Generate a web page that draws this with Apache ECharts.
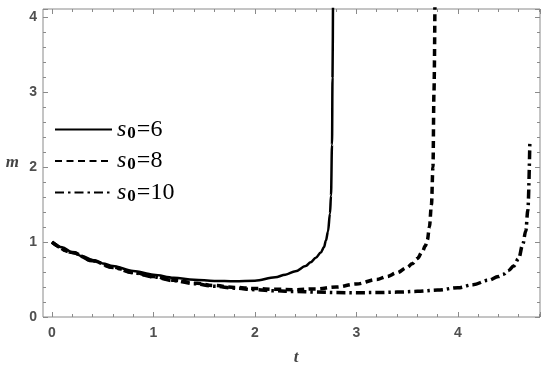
<!DOCTYPE html>
<html>
<head>
<meta charset="utf-8">
<script src="https://cdn.jsdelivr.net/npm/echarts@6/dist/echarts.min.js"></script>
<style>html,body{margin:0;padding:0;background:#fff}#c{width:550px;height:367px}</style>
</head>
<body>
<div id="c"></div>
<script>
// ---- data ----
const seriesNames = ['s0=6', 's0=8', 's0=10'];

const tS6 = [0, 0.1, 0.2, 0.3, 0.4, 0.5, 0.6, 0.8, 1.0, 1.2, 1.4, 1.6, 1.8, 2.0, 2.2, 2.3, 2.4, 2.5, 2.55, 2.6, 2.65, 2.68, 2.7, 2.72, 2.74, 2.75, 2.76, 2.765, 2.77];
const mS6 = [1.0, 0.93, 0.865, 0.81, 0.76, 0.715, 0.68, 0.615, 0.565, 0.525, 0.497, 0.482, 0.476, 0.485, 0.53, 0.565, 0.61, 0.68, 0.73, 0.79, 0.86, 0.93, 1.02, 1.14, 1.38, 1.62, 2.3, 3.2, 4.3];

const tS8 = [0, 0.2, 0.4, 0.6, 0.8, 1.0, 1.2, 1.4, 1.6, 1.8, 2.0, 2.2, 2.4, 2.6, 2.8, 3.0, 3.2, 3.3, 3.4, 3.5, 3.55, 3.6, 3.65, 3.68, 3.7, 3.72, 3.74, 3.755, 3.765, 3.775];
const mS8 = [1.0, 0.86, 0.75, 0.665, 0.595, 0.54, 0.49, 0.455, 0.42, 0.395, 0.38, 0.37, 0.365, 0.375, 0.4, 0.44, 0.5, 0.54, 0.59, 0.66, 0.71, 0.78, 0.87, 0.95, 1.03, 1.2, 1.5, 2.0, 3.0, 4.3];

const tS10 = [0, 0.2, 0.4, 0.6, 0.8, 1.0, 1.2, 1.4, 1.6, 1.8, 2.0, 2.2, 2.4, 2.6, 2.8, 3.0, 3.2, 3.4, 3.6, 3.8, 4.0, 4.15, 4.3, 4.4, 4.45, 4.5, 4.55, 4.6, 4.64, 4.67, 4.69, 4.71];
const mS10 = [1.0, 0.86, 0.75, 0.66, 0.59, 0.535, 0.485, 0.445, 0.41, 0.385, 0.365, 0.35, 0.34, 0.332, 0.326, 0.324, 0.326, 0.332, 0.342, 0.36, 0.39, 0.43, 0.49, 0.54, 0.57, 0.62, 0.68, 0.78, 0.97, 1.15, 1.42, 2.34];

const xMin = 0, xMax = 4.81, yMin = 0, yMax = 4.11;

// ---- build ----
function zip(t, m) { return t.map((v, i) => [v, m[i]]); }
const gray = '#8a8a8a';
const labelColor = '#4f4f4f';
const SERIF = 'Liberation Serif';
const SANS = 'Liberation Sans';
function intOnly(v) { return Math.abs(v - Math.round(v)) < 1e-9 ? String(Math.round(v)) : ''; }

function xAx(pos, interval, len, withLabel) {
  return {
    type: 'value', gridIndex: 0, position: pos, min: xMin, max: xMax, interval: interval,
    axisLine: { show: false, onZero: false },
    axisTick: { show: true, inside: true, length: len, lineStyle: { color: gray, width: 1 } },
    axisLabel: { show: withLabel, formatter: intOnly, color: labelColor, fontSize: 14, fontWeight: 'bold', fontFamily: SANS, margin: 9 },
    splitLine: { show: false }
  };
}
function yAx(pos, interval, len, withLabel, offset) {
  return {
    type: 'value', gridIndex: 0, position: pos, min: yMin, max: yMax, interval: interval, offset: offset,
    axisLine: { show: false, onZero: false },
    axisTick: { show: true, inside: true, length: len, lineStyle: { color: gray, width: 1 } },
    axisLabel: { show: withLabel, formatter: intOnly, color: labelColor, fontSize: 14, fontWeight: 'bold', fontFamily: SANS, margin: 6 },
    splitLine: { show: false }
  };
}

const xAxes = [xAx('bottom', 1, 5, true), xAx('bottom', 0.2, 3, false), xAx('top', 1, 5, false), xAx('top', 0.2, 3, false)];
xAxes[0].name = 't';
xAxes[0].nameLocation = 'middle';
xAxes[0].nameGap = 32;
xAxes[0].nameTextStyle = { fontFamily: SERIF, fontStyle: 'italic', fontWeight: 'bold', fontSize: 17, color: '#444' };
const yAxes = [yAx('left', 1, 5, true, 9), yAx('left', 0.2, 3, false, 9), yAx('right', 1, 5, false, 0), yAx('right', 0.2, 3, false, 0)];
yAxes[0].name = 'm';
yAxes[0].nameLocation = 'middle';
yAxes[0].nameRotate = 0;
yAxes[0].nameGap = 24;
yAxes[0].nameTextStyle = { fontFamily: SERIF, fontStyle: 'italic', fontWeight: 'bold', fontSize: 17, color: '#444' };
// frame grid axes (hidden)
xAxes.push({ type: 'value', gridIndex: 1, show: false, min: 0, max: 1 });
yAxes.push({ type: 'value', gridIndex: 1, show: false, min: 0, max: 1 });

const styles = [
  { type: 'solid', width: 2.5 },
  { type: [7, 4.5], width: 3.5 },
  { type: [9, 4, 2.5, 4], width: 3.5 }
];
const datas = [zip(tS6, mS6), zip(tS8, mS8), zip(tS10, mS10)];

const series = seriesNames.map((n, i) => ({
  name: n, type: 'line', xAxisIndex: 0, yAxisIndex: 0, data: datas[i],
  showSymbol: false, symbol: 'none', smooth: 0.35, smoothMonotone: 'x', clip: true,
  lineStyle: { color: '#000', width: styles[i].width, type: styles[i].type },
  itemStyle: { color: '#000' }, z: 3
}));

const legendRich = {
  s: { fontFamily: SERIF, fontStyle: 'italic', fontWeight: 'normal', fontSize: 24, color: '#000', lineHeight: 25 },
  sub: { fontFamily: SERIF, fontStyle: 'normal', fontWeight: 'bold', fontSize: 17, color: '#000', verticalAlign: 'bottom', lineHeight: 25, padding: [0, 1, 0, 1] },
  n: { fontFamily: SERIF, fontStyle: 'normal', fontWeight: 'normal', fontSize: 24, color: '#000', lineHeight: 25 }
};
const legendTextStyle = { color: '#000', lineHeight: 25, fontFamily: SERIF, fontSize: 24, rich: legendRich };

const chart = echarts.init(document.getElementById('c'), null, { renderer: 'canvas' });
chart.setOption({
  animation: false,
  backgroundColor: '#fff',
  textStyle: { fontFamily: SERIF },
  grid: [
    { left: 52, right: 10, top: 9, bottom: 50, containLabel: false, outerBoundsMode: 'none' },
    { left: 43, right: 10, top: 9, bottom: 50, show: true, borderColor: gray, borderWidth: 1, backgroundColor: 'transparent', z: 1, outerBoundsMode: 'none' }
  ],
  xAxis: xAxes,
  yAxis: yAxes,
  legend: {
    orient: 'vertical', left: 54, top: 117, padding: 0, itemGap: 6.5,
    itemWidth: 57, itemHeight: 14,
    data: seriesNames.map(n => ({ name: n, textStyle: legendTextStyle })),
    itemStyle: { opacity: 0, color: 'transparent', borderWidth: 0 },
    formatter: function (name) { return '{s|s}{sub|0}{n|=' + name.split('=')[1] + '}'; },
    textStyle: legendTextStyle
  },
  series: series
});
</script>
</body>
</html>
